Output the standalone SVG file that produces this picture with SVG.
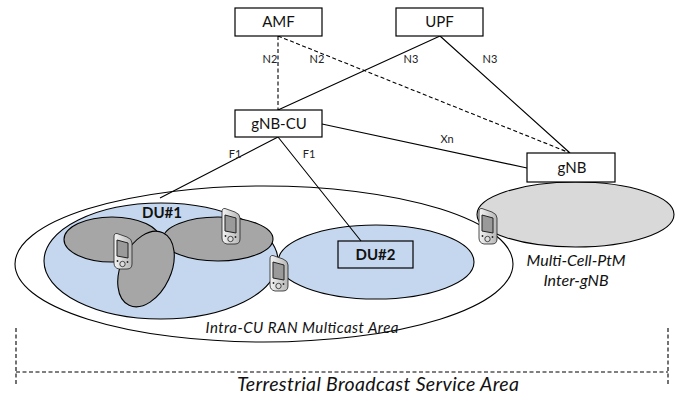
<svg xmlns="http://www.w3.org/2000/svg" xmlns:xlink="http://www.w3.org/1999/xlink" width="680" height="397" viewBox="0 0 680 397">
<style>
text{font-family:Lato,"Liberation Sans",sans-serif;fill:#111;text-anchor:middle}
.box{fill:#fff;stroke:#000;stroke-width:1.2}
.e{stroke:#000;stroke-width:1.1}
.l{stroke:#000;stroke-width:1.1;fill:none}
.d{stroke-dasharray:4 2.5}
.t{font-size:15px}
.s{font-size:11px;fill:#222}
.i{font-style:italic}
</style>
<defs>
<linearGradient id="ph" x1="0" x2="1" y1="0" y2="0"><stop offset="0" stop-color="#f4f4f4"/><stop offset="1" stop-color="#b5b5b5"/></linearGradient>
<symbol id="phone" overflow="visible">
<path d="M1 4 Q1 0 4 0.5 L14 4 Q19 6 19 10 L19 31 Q19 36 14 36 L6 36 Q1 35 1 30 Z" fill="url(#ph)" stroke="#222" stroke-width="0.8"/>
<path d="M4 7 L4 23 L15 25 L15 10 Z" fill="#9a9a9a" stroke="#222" stroke-width="1"/>
<circle cx="9.500" cy="31" r="2.700" fill="#ddd" stroke="#222" stroke-width="0.8"/>
<circle cx="4.500" cy="28" r="0.9" fill="#222"/><circle cx="14.500" cy="29" r="0.9" fill="#222"/>
</symbol>
</defs>
<rect width="680" height="397" fill="#fff"/>
<g id="area-broadcast">
<path class="l d" d="M16 372H668" stroke-width="1"/>
<path class="l d" d="M16 328V386M668 328V386" stroke-width="0.9"/>
<text class="i" x="378" y="391" font-size="19.500" textLength="282">Terrestrial Broadcast Service Area</text>
</g>
<g id="gnb-cell"><ellipse class="e" cx="575.500" cy="214.500" rx="98.500" ry="32.500" fill="#d9d9d9"/></g>
<g id="area-multicast"><ellipse class="e" cx="264" cy="264" rx="249" ry="78" fill="#fff"/></g>
<g id="du1">
<ellipse class="e" cx="161" cy="261" rx="117" ry="58" fill="#c5d7ee"/>
<text x="162" y="218" font-size="15" font-weight="700">DU#1</text>
</g>
<g id="du2">
<ellipse class="e" cx="376" cy="262" rx="98" ry="37" fill="#c5d7ee"/>
<rect class="box" x="338" y="241" width="75" height="27" style="fill:#c5d7ee"/>
<text x="375.500" y="260" font-size="15" font-weight="700">DU#2</text>
</g>
<g id="cell-1"><ellipse class="e" cx="112" cy="239.500" rx="48" ry="22.500" fill="#a6a6a6"/></g>
<g id="cell-2"><ellipse class="e" cx="218" cy="239" rx="55" ry="22" fill="#a6a6a6"/></g>
<g id="cell-3"><ellipse class="e" cx="146" cy="269" rx="40" ry="25" fill="#a6a6a6" transform="rotate(-65 146 269)"/></g>
<g id="connectors">
<path class="l d" d="M278 36V110M278 36L570 153"/>
<path class="l" d="M440 36L278 110M440 36L570 153M322 124L527 168M278 137L160 198M278 137L361 241"/>
</g>
<g id="amf"><rect class="box" x="235" y="8" width="87" height="28"/><text class="t" x="278.500" y="27">AMF</text></g>
<g id="upf"><rect class="box" x="396" y="8" width="87" height="28"/><text class="t" x="439.500" y="27">UPF</text></g>
<g id="gnb-cu"><rect class="box" x="235" y="110" width="87" height="27"/><text class="t" x="279" y="129">gNB-CU</text></g>
<g id="gnb"><rect class="box" x="527" y="153" width="88" height="29"/><text class="t" x="572" y="173">gNB</text></g>
<g id="ue-1"><use xlink:href="#phone" href="#phone" x="113" y="233"/></g>
<g id="ue-2"><use xlink:href="#phone" href="#phone" x="221" y="208"/></g>
<g id="ue-3"><use xlink:href="#phone" href="#phone" x="269" y="255"/></g>
<g id="ue-4"><use xlink:href="#phone" href="#phone" x="478" y="208"/></g>
<g id="labels">
<text class="s" x="270" y="63">N2</text>
<text class="s" x="317" y="63">N2</text>
<text class="s" x="411" y="63">N3</text>
<text class="s" x="490" y="63">N3</text>
<text class="s" x="447" y="143">Xn</text>
<text class="s" x="235" y="158">F1</text>
<text class="s" x="309" y="158">F1</text>
<text class="i" x="302" y="333" font-size="15" textLength="193">Intra-CU RAN Multicast Area</text>
<text class="i" x="576" y="266" font-size="16">Multi-Cell-PtM</text>
<text class="i" x="576" y="286" font-size="16">Inter-gNB</text>
</g>
</svg>
